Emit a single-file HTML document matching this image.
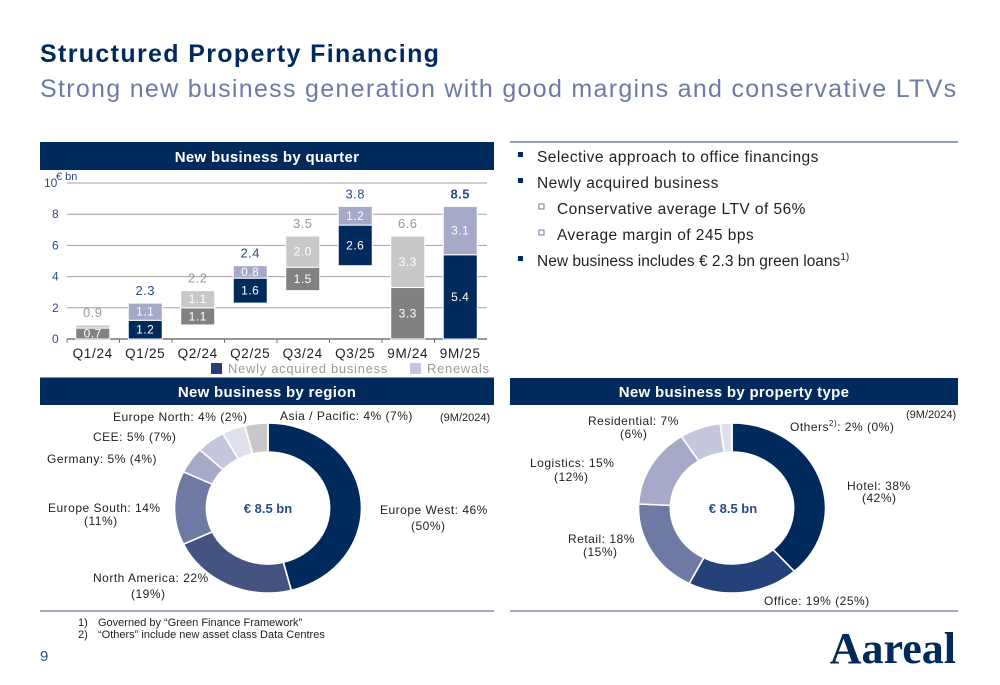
<!DOCTYPE html>
<html><head><meta charset="utf-8">
<style>
body{margin:0;background:#fff;}
svg{display:block;font-family:"Liberation Sans",sans-serif;}
</style></head>
<body>
<svg id="s" width="1000" height="685" viewBox="0 0 1000 685" xmlns="http://www.w3.org/2000/svg">
<text x="40" y="62" font-size="25" font-weight="bold" fill="#002a5c" letter-spacing="1.35">Structured Property Financing</text>
<text x="40" y="97" font-size="25" fill="#6d7aa6" letter-spacing="1.3">Strong new business generation with good margins and conservative LTVs</text>

<rect x="40" y="142" width="454" height="28" fill="#002a5c"/>
<text x="267" y="162" font-size="15" font-weight="bold" fill="#fff" text-anchor="middle" letter-spacing="0.3">New business by quarter</text>
<g id="barchart"></g>
<line x1="40" y1="378" x2="494" y2="378" stroke="#002a5c" stroke-width="1"/>

<line x1="510" y1="142" x2="958" y2="142" stroke="#7080a8" stroke-width="1.5"/>
<g font-size="15.5" fill="#222" letter-spacing="0.45">
<rect x="518" y="152" width="5" height="5" fill="#002a5c"/><text x="537" y="162">Selective approach to office financings</text>
<rect x="518" y="178" width="5" height="5" fill="#002a5c"/><text x="537" y="188">Newly acquired business</text>
<rect x="539" y="204" width="5" height="5" fill="none" stroke="#6d7aa6"/><text x="557" y="214">Conservative average LTV of 56%</text>
<rect x="539" y="230" width="5" height="5" fill="none" stroke="#6d7aa6"/><text x="557" y="240">Average margin of 245 bps</text>
<rect x="518" y="256" width="5" height="5" fill="#002a5c"/><text x="537" y="266" letter-spacing="0">New business includes € 2.3 bn green loans<tspan font-size="10" dy="-6">1)</tspan></text>
</g>

<rect x="40" y="378" width="454" height="27" fill="#002a5c"/>
<text x="267" y="397" font-size="15" font-weight="bold" fill="#fff" text-anchor="middle" letter-spacing="0.3">New business by region</text>
<rect x="510" y="378" width="448" height="27" fill="#002a5c"/>
<text x="734" y="397" font-size="15" font-weight="bold" fill="#fff" text-anchor="middle" letter-spacing="0.3">New business by property type</text>

<g id="donut1"></g>
<g id="donut2"></g>

<g font-size="12" fill="#222" letter-spacing="0.5">
<text x="440" y="421" font-size="11" letter-spacing="0">(9M/2024)</text>
<text x="113" y="421">Europe North:  4%  (2%)</text>
<text x="280" y="420">Asia / Pacific: 4%  (7%)</text>
<text x="93" y="441">CEE:  5%  (7%)</text>
<text x="47" y="463">Germany:  5% (4%)</text>
<text x="48" y="512">Europe South: 14%</text>
<text x="84" y="525">(11%)</text>
<text x="380" y="514">Europe West: 46%</text>
<text x="411" y="530">(50%)</text>
<text x="93" y="582">North America: 22%</text>
<text x="131" y="598">(19%)</text>
<text x="268" y="513" font-size="13" font-weight="bold" fill="#2a4a8a" text-anchor="middle" letter-spacing="0">€ 8.5 bn</text>

<text x="906" y="418" font-size="11" letter-spacing="0">(9M/2024)</text>
<text x="588" y="425">Residential:  7%</text>
<text x="620" y="438">(6%)</text>
<text x="790" y="431">Others<tspan font-size="8" dy="-5">2)</tspan><tspan dy="5">: 2% (0%)</tspan></text>
<text x="530" y="467">Logistics:  15%</text>
<text x="554" y="481">(12%)</text>
<text x="847" y="490">Hotel:  38%</text>
<text x="862" y="502">(42%)</text>
<text x="568" y="543">Retail:  18%</text>
<text x="583" y="556">(15%)</text>
<text x="764" y="605">Office:  19% (25%)</text>
<text x="733" y="513" font-size="13" font-weight="bold" fill="#2a4a8a" text-anchor="middle" letter-spacing="0">€ 8.5 bn</text>
</g>

<line x1="40" y1="611" x2="494" y2="611" stroke="#44537f" stroke-width="1"/>
<line x1="510" y1="611" x2="958" y2="611" stroke="#44537f" stroke-width="1"/>
<g font-size="11" fill="#222">
<text x="78" y="626">1)</text>
<text x="98" y="626">Governed by “Green Finance Framework”</text>
<text x="78" y="638">2)</text>
<text x="98" y="638">“Others” include new asset class Data Centres</text>
</g>
<text x="40" y="661" font-size="15" fill="#2a4a8a">9</text>
<text x="956" y="663" font-size="44" font-weight="bold" font-family="Liberation Serif, serif" fill="#002a5c" text-anchor="end">Aareal</text>
</svg>
<script>
const NS="http://www.w3.org/2000/svg";
const categories=["Q1/24","Q1/25","Q2/24","Q2/25","Q3/24","Q3/25","9M/24","9M/25"];
const baseVals=[0,0,0.9,2.3,3.1,4.7,0,0];
const newlyVals=[0.7,1.2,1.1,1.6,1.5,2.6,3.3,5.4];
const renewVals=[0.2,1.1,1.1,0.8,2.0,1.2,3.3,3.1];
const totalLabels=["0.9","2.3","2.2","2.4","3.5","3.8","6.6","8.5"];
const yTicks=[0,2,4,6,8,10];
const regionNames=["Europe West","North America","Europe South","Germany","CEE","Europe North","Asia / Pacific"];
const regionVals=[46,22,14,5,5,4,4];
const propertyNames=["Hotel","Office","Retail","Logistics","Residential","Others"];
const propertyVals=[38,19,18,15,7,2];

function mk(tag,attrs,parent){const e=document.createElementNS(NS,tag);for(const k in attrs)e.setAttribute(k,attrs[k]);parent.appendChild(e);return e;}
const bc=document.getElementById('barchart');
const X0=67,X1=487,Y0=339,PPU=15.6;
const y=v=>Y0-v*PPU;
const step=(X1-X0)/categories.length;
const xc=i=>X0+step*(i+0.5)-0.5;
yTicks.forEach(t=>{
  if(t>0){const g=mk('line',{x1:X0,x2:X1,y1:y(t),y2:y(t),stroke:'#a0a0a0','stroke-width':1},bc);
  
  }
  const tx=mk('text',{x:t==10?44:52,y:y(t)+4,'font-size':12,fill:'#2a4a8a'},bc);
  tx.textContent=t;
  
  
});
const u=mk('text',{x:56,y:y(10)-3,'font-size':11,fill:'#2a4a8a'},bc);u.textContent='€ bn';


const ax=mk('line',{x1:X0,x2:X1,y1:Y0,y2:Y0,stroke:'#777','stroke-width':1.5},bc);


const bw=34;
categories.forEach((c,i)=>{
  const is24=c.indexOf('24')>=0;
  const c1=is24?'#818181':'#002a5c', c2=is24?'#c8c8c8':'#a6a9c8';
  const b=baseVals[i],n=newlyVals[i],r=renewVals[i];
  const r1=mk('rect',{x:xc(i)-bw/2,y:y(b+n),width:bw,height:n*PPU,fill:c1,stroke:'#fff','stroke-width':1},bc);
  
  
  const r2=mk('rect',{x:xc(i)-bw/2,y:y(b+n+r),width:bw,height:r*PPU,fill:c2,stroke:'#fff','stroke-width':1},bc);
  
  
  const l1=mk('text',{x:xc(i),y:y(b+n/2)+4,'font-size':12,fill:'#fff','text-anchor':'middle','letter-spacing':0.5},bc);
  l1.textContent=n.toFixed(1);
  
  
  if(r>=0.5){const l2=mk('text',{x:xc(i),y:y(b+n+r/2)+4,'font-size':12,fill:'#fff','text-anchor':'middle','letter-spacing':0.5},bc);
  l2.textContent=r.toFixed(1);
  
  }
  const tl=mk('text',{x:xc(i),y:y(b+n+r)-8,'font-size':13,fill:is24?'#999':'#2a4a8a','font-weight':c=='9M/25'?'bold':'normal','text-anchor':'middle','letter-spacing':0.5},bc);
  tl.textContent=totalLabels[i];
  
  
  const cl=mk('text',{x:xc(i),y:358,'font-size':13.5,fill:'#222','text-anchor':'middle','letter-spacing':0.7},bc);
  cl.textContent=c;
  
  
  const tk=mk('line',{x1:X0+step*i,x2:X0+step*i,y1:Y0,y2:Y0+4,stroke:'#777'},bc);
  
  
});
const lg1=mk('rect',{x:211,y:363,width:11,height:11,fill:'#2a3f78'},bc);


const lt1=mk('text',{x:228,y:373,'font-size':13,fill:'#999','letter-spacing':0.7},bc);lt1.textContent='Newly acquired business';


const lg2=mk('rect',{x:410,y:363,width:11,height:11,fill:'#c4c6dd'},bc);


const lt2=mk('text',{x:427,y:373,'font-size':13,fill:'#999','letter-spacing':0.7},bc);lt2.textContent='Renewals';



function donut(id,cx,cy,names,vals,colors){
  const g=document.getElementById(id);
  const gg=mk('g',{transform:`translate(${cx},${cy}) scale(1.1,1)`},g);
  const R=85,r=56;const tot=vals.reduce((a,b)=>a+b,0);let a=0;
  vals.forEach((v,i)=>{
    const a0=a/tot*2*Math.PI;a+=v;const a1=a/tot*2*Math.PI;
    const p=(ang,rad)=>[rad*Math.sin(ang),-rad*Math.cos(ang)];
    const [x0,y0]=p(a0,R),[x1,y1]=p(a1,R),[x2,y2]=p(a1,r),[x3,y3]=p(a0,r);
    const lg=(a1-a0)>Math.PI?1:0;
    const path=mk('path',{d:`M${x0},${y0}A${R},${R} 0 ${lg} 1 ${x1},${y1}L${x2},${y2}A${r},${r} 0 ${lg} 0 ${x3},${y3}Z`,fill:colors[i],stroke:'#fff','stroke-width':1.5},gg);
    
    
  });
}
donut('donut1',268,508,regionNames,regionVals,['#002a5c','#44537f','#6e7aa3','#a6a9c8','#c4c6dd','#dfe0ec','#c8c8c8']);
donut('donut2',732,508,propertyNames,propertyVals,['#002a5c','#25417a','#6e7aa3','#a6a9c8','#c4c6dd','#dfe0ec']);
</script>
</body></html>
